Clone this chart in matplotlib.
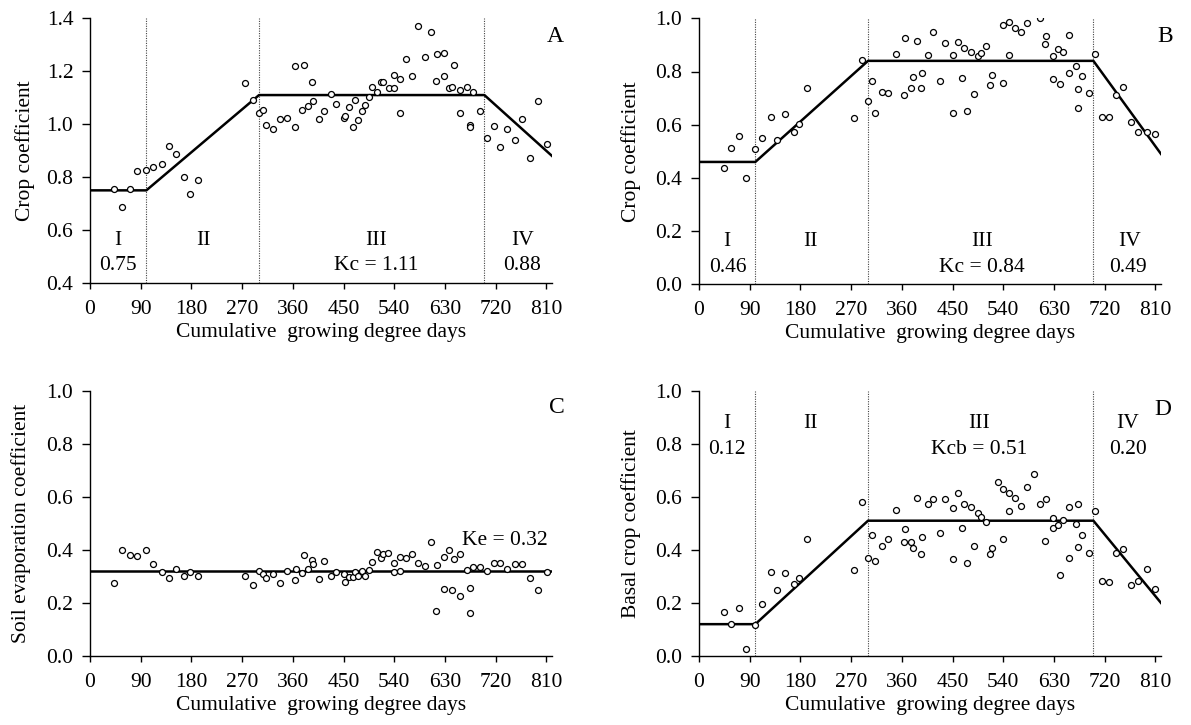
import numpy as np
import matplotlib
matplotlib.use("Agg")
import matplotlib.pyplot as plt

plt.rcParams['font.family'] = ['Liberation Serif', 'DejaVu Serif']

# ---- data ----
# A: crop coefficient
a_x = [43, 56, 71, 83, 99, 112, 127, 140, 153, 167, 178, 191,
       275, 290, 300, 307, 313, 324, 337, 349, 364, 379, 364, 377, 387, 394, 396, 407, 415,
       428, 437, 450, 452, 460, 467, 471, 476, 483, 488, 496, 501, 509, 516, 520, 531, 540,
       540, 550, 550, 561, 572, 582, 595, 606, 614, 616, 629, 629, 637, 642, 646, 657, 657,
       670, 675, 675, 680, 693, 705, 717, 728, 741, 754, 766, 781, 796, 811]
a_y = [0.755, 0.687, 0.755, 0.823, 0.826, 0.84, 0.85, 0.918, 0.887, 0.80, 0.737, 0.791,
       1.154, 1.09, 1.043, 1.055, 0.996, 0.981, 1.019, 1.023, 1.219, 1.223, 0.991, 1.052, 1.068, 1.16, 1.087, 1.018, 1.05,
       1.114, 1.078, 1.024, 1.032, 1.064, 0.988, 1.09, 1.014, 1.05, 1.073, 1.103, 1.141, 1.123, 1.16, 1.16, 1.137, 1.137,
       1.186, 1.169, 1.042, 1.245, 1.182, 1.372, 1.254, 1.35, 1.165, 1.264, 1.268, 1.182, 1.136, 1.141, 1.223, 1.128, 1.042,
       1.141, 0.996, 0.988, 1.12, 1.05, 0.946, 0.995, 0.914, 0.982, 0.941, 1.019, 0.873, 1.087, 0.927]
a_kc = [0.75, 0.75, 1.11, 1.11, 0.88]

# B: crop coefficient
b_x = [44, 57, 71, 84, 99, 112, 127, 139, 152, 168, 178, 192,
       275, 289, 300, 307, 312, 324, 336, 349, 366, 363, 376, 379, 387, 394, 396, 407, 415,
       428, 436, 450, 451, 460, 467, 471, 476, 483, 488, 496, 500, 509, 516, 520, 539, 539,
       550, 550, 561, 571, 582, 605, 614, 616, 629, 629, 637, 641, 646, 656, 656, 669, 673,
       673, 680, 693, 703, 716, 727, 740, 753, 766, 780, 795, 810]
b_y = [0.436, 0.514, 0.557, 0.40, 0.509, 0.549, 0.63, 0.541, 0.64, 0.573, 0.604, 0.739,
       0.626, 0.843, 0.689, 0.765, 0.644, 0.722, 0.718, 0.866, 0.925, 0.712, 0.739, 0.779, 0.916, 0.739, 0.793, 0.861, 0.947,
       0.765, 0.906, 0.861, 0.644, 0.911, 0.774, 0.888, 0.653, 0.874, 0.717, 0.857, 0.87, 0.897, 0.748, 0.788, 0.757, 0.974,
       0.987, 0.861, 0.965, 0.947, 0.984, 1.001, 0.902, 0.933, 0.857, 0.771, 0.883, 0.753, 0.874, 0.793, 0.937, 0.82, 0.734,
       0.662, 0.784, 0.72, 0.866, 0.63, 0.63, 0.712, 0.743, 0.611, 0.571, 0.571, 0.566]
b_kc = [0.46, 0.46, 0.84, 0.84, 0.49]

# C: soil evaporation coefficient
c_x = [43, 56, 71, 83, 99, 112, 127, 140, 153, 167, 178, 191,
       275, 290, 300, 307, 313, 324, 337, 349, 364, 366, 377, 379, 387, 394, 396, 407, 415,
       428, 437, 450, 452, 460, 467, 471, 476, 483, 488, 496, 501, 509, 516, 520, 529, 540,
       540, 550, 550, 561, 572, 582, 595, 606, 614, 616, 629, 629, 638, 642, 646, 657, 657,
       670, 675, 675, 680, 693, 704, 717, 728, 741, 754, 766, 781, 796, 811]
c_y = [0.275, 0.398, 0.38, 0.376, 0.398, 0.348, 0.317, 0.294, 0.329, 0.303, 0.317, 0.303,
       0.303, 0.266, 0.32, 0.308, 0.294, 0.308, 0.275, 0.32, 0.285, 0.327, 0.312, 0.38, 0.327, 0.362, 0.348, 0.289, 0.357,
       0.303, 0.317, 0.308, 0.28, 0.299, 0.299, 0.317, 0.303, 0.32, 0.303, 0.325, 0.353, 0.393, 0.37, 0.384, 0.388, 0.352,
       0.317, 0.374, 0.32, 0.37, 0.384, 0.352, 0.339, 0.43, 0.171, 0.344, 0.374, 0.253, 0.398, 0.249, 0.366, 0.225, 0.384,
       0.325, 0.258, 0.162, 0.334, 0.334, 0.32, 0.352, 0.352, 0.329, 0.348, 0.348, 0.294, 0.249, 0.317]
c_ke = [0.32, 0.32]

# D: basal crop coefficient
d_x = [44, 57, 71, 84, 99, 112, 127, 139, 152, 168, 178, 191,
       275, 289, 300, 307, 312, 324, 336, 349, 364, 366, 377, 379, 387, 394, 396, 407, 415,
       428, 436, 450, 451, 460, 467, 471, 475, 483, 488, 496, 500, 509, 516, 520, 530, 539,
       539, 550, 550, 561, 571, 582, 595, 605, 614, 616, 629, 629, 637, 641, 646, 656, 656,
       669, 673, 673, 680, 693, 703, 716, 727, 740, 753, 766, 780, 795, 810]
d_y = [0.166, 0.121, 0.18, 0.025, 0.116, 0.197, 0.315, 0.248, 0.312, 0.27, 0.293, 0.442,
       0.325, 0.579, 0.371, 0.456, 0.357, 0.416, 0.442, 0.551, 0.429, 0.479, 0.429, 0.407, 0.597, 0.384, 0.447, 0.574, 0.593,
       0.465, 0.593, 0.557, 0.366, 0.616, 0.484, 0.574, 0.352, 0.56, 0.416, 0.538, 0.524, 0.506, 0.384, 0.407, 0.656, 0.442,
       0.628, 0.616, 0.548, 0.597, 0.565, 0.638, 0.687, 0.574, 0.433, 0.593, 0.52, 0.484, 0.493, 0.307, 0.511, 0.56, 0.371,
       0.498, 0.574, 0.412, 0.456, 0.388, 0.548, 0.284, 0.28, 0.388, 0.402, 0.266, 0.284, 0.329, 0.253]
d_kcb = [0.12, 0.12, 0.51, 0.51, 0.20]

seg_x = [0, 100, 300, 700, 820]
stage_bounds = [100, 300, 700]
stage_names = ["I", "II", "III", "IV"]
xticks = list(range(0, 811, 90))
xlabel = "Cumulative  growing degree days"

fig = plt.figure(figsize=(11.91, 7.25), dpi=100)
W, H = 1191, 725


def make_ax(left, top, bottom):
    return fig.add_axes([left / W, (H - bottom) / H, 462 / W, (bottom - top) / H])


def style(ax, ylim, yticks, ylab, ylab_x):
    ax.set_xlim(0, 820)
    ax.set_ylim(*ylim)
    ax.set_xticks(xticks)
    ax.set_yticks(yticks)
    ax.set_yticklabels(["%.1f" % v for v in yticks])
    for s in ["top", "right"]:
        ax.spines[s].set_visible(False)
    for s in ["left", "bottom"]:
        ax.spines[s].set_linewidth(1.0)
    ax.tick_params(direction="out", width=1.0, labelsize=15.5)
    ax.tick_params(axis="x", length=4, pad=8)
    ax.tick_params(axis="y", length=6, pad=6)
    ax.set_ylabel(ylab, fontsize=15.5)
    ax.yaxis.set_label_coords(ylab_x, 0.5)
    ax.set_xlabel(xlabel, fontsize=15.5, labelpad=3)


def scatter(ax, x, y):
    ax.plot(x, y, "o", ms=4.3, mfc="white", mec="black", mew=0.9, zorder=3)


def bounds(ax):
    for b in stage_bounds:
        ax.axvline(b, color="#444444", lw=0.8, ls=(0, (1, 1.2)), zorder=1)


axA = make_ax(90, 18.3, 283)
axB = make_ax(699, 18.3, 284.3)
axC = make_ax(90, 390.7, 656)
axD = make_ax(699, 390.7, 656)

# A
bounds(axA)
axA.plot(seg_x, a_kc, color="black", lw=1.8, zorder=2)
scatter(axA, a_x, a_y)
style(axA, (0.4, 1.4), np.round(np.arange(0.4, 1.41, 0.2), 1), "Crop coefficient", -0.118)
for xs, t in zip([50, 202, 508, 767], stage_names):
    axA.text(xs, 0.562, t, ha="center", va="center", fontsize=15.5)
for xs, t in zip([50, 508, 767], ["0.75", "Kc = 1.11", "0.88"]):
    axA.text(xs, 0.468, t, ha="center", va="center", fontsize=15.5)
axA.text(1.006, 0.932, "A", transform=axA.transAxes, ha="center", va="center", fontsize=17)

# B
bounds(axB)
axB.plot(seg_x, b_kc, color="black", lw=1.8, zorder=2)
scatter(axB, b_x, b_y)
style(axB, (0.0, 1.0), np.round(np.arange(0.0, 1.01, 0.2), 1), "Crop coefficient", -0.125)
for xs, t in zip([49, 198, 502, 764], stage_names):
    axB.text(xs, 0.16, t, ha="center", va="center", fontsize=15.5)
for xs, t in zip([51, 502, 762], ["0.46", "Kc = 0.84", "0.49"]):
    axB.text(xs, 0.064, t, ha="center", va="center", fontsize=15.5)
axB.text(1.009, 0.933, "B", transform=axB.transAxes, ha="center", va="center", fontsize=17)

# C
axC.plot([0, 820], c_ke, color="black", lw=1.8, zorder=2)
scatter(axC, c_x, c_y)
style(axC, (0.0, 1.0), np.round(np.arange(0.0, 1.01, 0.2), 1), "Soil evaporation coefficient", -0.128)
axC.text(737, 0.437, "Ke = 0.32", ha="center", va="center", fontsize=15.5)
axC.text(1.011, 0.937, "C", transform=axC.transAxes, ha="center", va="center", fontsize=17)

# D
bounds(axD)
axD.plot(seg_x, d_kcb, color="black", lw=1.8, zorder=2)
scatter(axD, d_x, d_y)
style(axD, (0.0, 1.0), np.round(np.arange(0.0, 1.01, 0.2), 1), "Basal crop coefficient", -0.125)
for xs, t in zip([49, 198, 497, 761], stage_names):
    axD.text(xs, 0.877, t, ha="center", va="center", fontsize=15.5)
for xs, t in zip([49, 497, 761], ["0.12", "Kcb = 0.51", "0.20"]):
    axD.text(xs, 0.778, t, ha="center", va="center", fontsize=15.5)
axD.text(1.005, 0.929, "D", transform=axD.transAxes, ha="center", va="center", fontsize=17)

fig.savefig("out.png", dpi=100)
